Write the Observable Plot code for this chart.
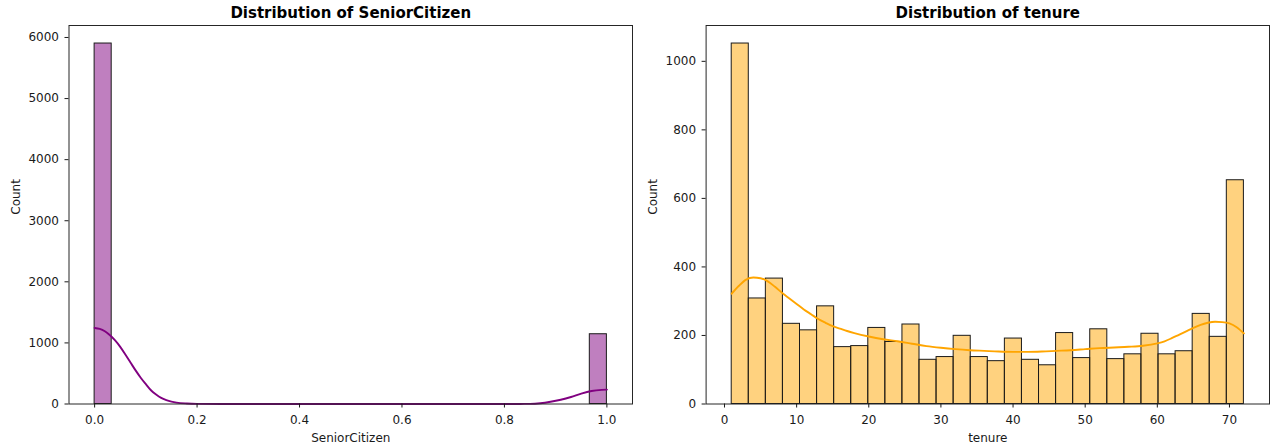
<!DOCTYPE html>
<html>
<head>
<meta charset="utf-8">
<script src="https://cdn.jsdelivr.net/npm/d3@7"></script>
<script src="https://cdn.jsdelivr.net/npm/@observablehq/plot@0.6"></script>
<style>
  html, body { margin: 0; padding: 0; background: #fff; }
  #wrap { display: flex; width: 1280px; height: 446px; overflow: hidden; }
  #wrap svg { display: block; flex: none; }
</style>
</head>
<body>
<div id="wrap"></div>
<script>
// ---------- Data: SeniorCitizen histogram (non-empty bins of 30 over [0,1]) ----------
const seniorBinStart = [0, 0.96667];
const seniorBinEnd   = [0.03333, 1];
const seniorCounts   = [5901, 1142];

// KDE curve for SeniorCitizen (count scale)
const seniorKdeX = [0, 0.01, 0.02, 0.03, 0.04, 0.05, 0.06, 0.07, 0.08, 0.09, 0.10, 0.11, 0.12, 0.13, 0.14, 0.15, 0.16, 0.18, 0.20, 0.25,
                    0.75, 0.80, 0.83, 0.85, 0.87, 0.89, 0.91, 0.93, 0.95, 0.97, 0.99, 1.0];
const seniorKdeY = [1245, 1230, 1190, 1125, 1040, 935, 810, 680, 550, 430, 325, 225, 155, 100, 65, 40, 23, 8, 2, 0,
                    0, 0, 1, 2, 12, 36, 70, 115, 170, 212, 232, 236];

// ---------- Data: tenure histogram (30 bins over [1,72]) ----------
const tenureEdges = [1, 3.3667, 5.7333, 8.1, 10.4667, 12.8333, 15.2, 17.5667, 19.9333, 22.3, 24.6667,
                     27.0333, 29.4, 31.7667, 34.1333, 36.5, 38.8667, 41.2333, 43.6, 45.9667, 48.3333,
                     50.7, 53.0667, 55.4333, 57.8, 60.1667, 62.5333, 64.9, 67.2667, 69.6333, 72];
const tenureCounts = [1052, 308, 366, 234, 215, 285, 166, 169, 222, 181,
                      232, 129, 137, 199, 137, 125, 191, 129, 113, 207,
                      134, 218, 131, 145, 205, 145, 154, 263, 196, 653];

// KDE curve for tenure (count scale)
const tenureKdeX = [1, 2, 3, 4, 5, 6, 7, 8, 9, 10, 11, 12, 13, 14, 15, 16, 17, 18, 20, 22, 24, 26, 28, 30,
                    32, 34, 36, 38, 40, 42, 44, 46, 48, 50, 52, 54, 56, 58, 60, 61, 62, 63, 64, 65, 66, 67, 68, 69, 70, 71, 72];
const tenureKdeY = [322, 345, 363, 369, 367, 358, 342, 324, 308, 292, 276, 262, 248, 237, 227, 220, 213, 207, 197, 189, 183, 176, 169, 164,
                    160, 157, 155, 153, 152, 152, 153, 155, 157, 160, 163, 165, 167, 170, 177, 183, 192, 202, 212, 222, 231, 237, 240, 239, 235, 224, 206];

// ---------- Tick labels / text ----------
const seniorXTicks = [0, 0.2, 0.4, 0.6, 0.8, 1.0];
const seniorYTicks = [0, 1000, 2000, 3000, 4000, 5000, 6000];
const tenureXTicks = [0, 10, 20, 30, 40, 50, 60, 70];
const tenureYTicks = [0, 200, 400, 600, 800, 1000];
const titles = ["Distribution of SeniorCitizen", "Distribution of tenure"];
const xLabels = ["SeniorCitizen", "tenure"];
const yLabel = "Count";

// ---------- Build tables ----------
const seniorBars = seniorCounts.map((c, i) => ({x1: seniorBinStart[i], x2: seniorBinEnd[i], count: c}));
const seniorKde = seniorKdeX.map((x, i) => ({x, y: seniorKdeY[i]}));
const tenureBars = tenureCounts.map((c, i) => ({x1: tenureEdges[i], x2: tenureEdges[i + 1], count: c}));
const tenureKde = tenureKdeX.map((x, i) => ({x, y: tenureKdeY[i]}));

const FONT = "'DejaVu Sans', sans-serif";

function panel({bars, kde, xDomain, yDomain, xTicks, yTicks, xFormat, fill, line, title, xLabel, marginLeft, marginRight}) {
  return Plot.plot({
    width: 640,
    height: 446,
    marginTop: 25,
    marginBottom: 42.5,
    marginLeft,
    marginRight,
    style: {fontFamily: FONT, fontSize: "12px", color: "#1a1a1a", background: "#fff"},
    x: {domain: xDomain},
    y: {domain: yDomain},
    marks: [
      Plot.rectY(bars, {x1: "x1", x2: "x2", y: "count", fill, fillOpacity: 0.5, stroke: "#1a1a1a", strokeWidth: 1}),
      Plot.line(kde, {x: "x", y: "y", stroke: line, strokeWidth: 1.9, curve: "monotone-x"}),
      Plot.frame({stroke: "#262626", strokeWidth: 1}),
      Plot.axisX({ticks: xTicks, tickSize: 4, tickPadding: 7, tickFormat: xFormat, label: null}),
      Plot.axisY({ticks: yTicks, tickSize: 4, tickPadding: 6, tickFormat: d => String(d), label: null}),
      Plot.text([title], {text: d => d, frameAnchor: "top", dy: -12.3, lineAnchor: "middle", fontWeight: "bold", fontSize: 15, fill: "#000"}),
      Plot.text([xLabel], {text: d => d, frameAnchor: "bottom", dy: 34.2, lineAnchor: "middle", fontSize: 12, fill: "#1a1a1a"}),
      Plot.text([yLabel], {text: d => d, frameAnchor: "left", dx: -52.5, rotate: -90, lineAnchor: "middle", fontSize: 12, fill: "#1a1a1a"})
    ]
  });
}

const wrap = document.getElementById("wrap");
wrap.append(panel({
  bars: seniorBars, kde: seniorKde,
  xDomain: [-0.05, 1.05], yDomain: [0, 5901 * 1.05],
  xTicks: seniorXTicks, yTicks: seniorYTicks, xFormat: d3.format(".1f"),
  fill: "purple", line: "purple",
  title: titles[0], xLabel: xLabels[0],
  marginLeft: 68.5, marginRight: 8
}));
wrap.append(panel({
  bars: tenureBars, kde: tenureKde,
  xDomain: [-2.55, 75.55], yDomain: [0, 1052 * 1.05],
  xTicks: tenureXTicks, yTicks: tenureYTicks, xFormat: d => String(d),
  fill: "orange", line: "orange",
  title: titles[1], xLabel: xLabels[1],
  marginLeft: 65.6, marginRight: 11
}));
</script>
</body>
</html>
